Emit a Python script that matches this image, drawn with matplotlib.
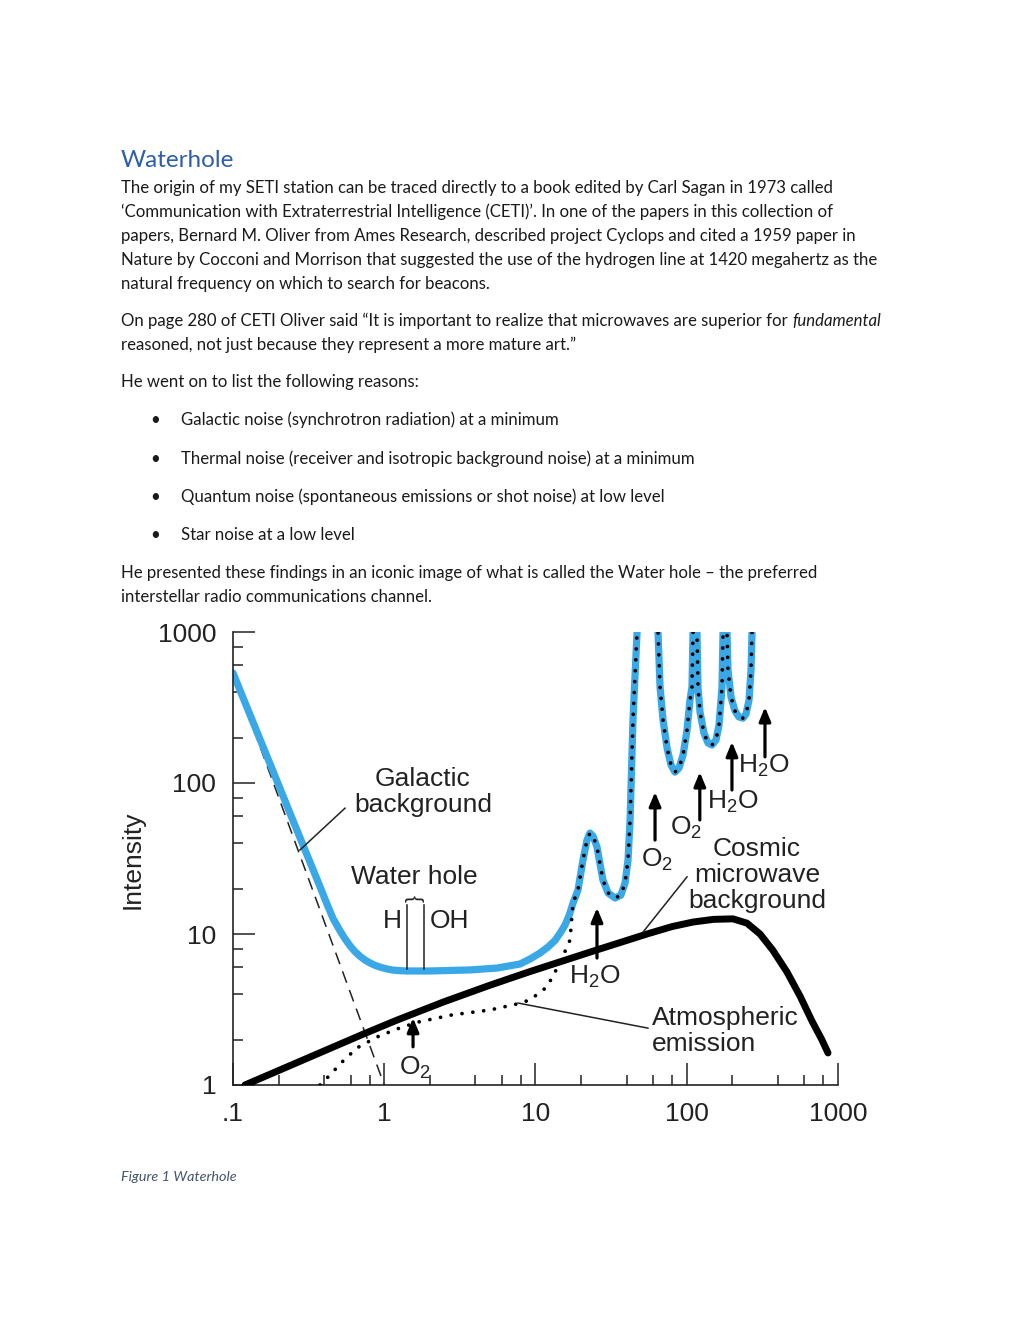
import numpy as np
import matplotlib.pyplot as plt
from matplotlib.ticker import FixedLocator, FixedFormatter, LogLocator, NullFormatter

plt.rcParams['mathtext.default'] = 'regular'

# page text
title = 'Waterhole'
para1 = ['The origin of my SETI station can be traced directly to a book edited by Carl Sagan in 1973 called',
         '\u2018Communication with Extraterrestrial Intelligence (CETI)\u2019. In one of the papers in this collection of',
         'papers, Bernard M. Oliver from Ames Research, described project Cyclops and cited a 1959 paper in',
         'Nature by Cocconi and Morrison that suggested the use of the hydrogen line at 1420 megahertz as the',
         'natural frequency on which to search for beacons.']
para2a = 'On page 280 of CETI Oliver said \u201cIt is important to realize that microwaves are superior for'
para2i = 'fundamental'
para2b = 'reasoned, not just because they represent a more mature art.\u201d'
para3 = 'He went on to list the following reasons:'
bullets = ['Galactic noise (synchrotron radiation) at a minimum',
           'Thermal noise (receiver and isotropic background noise) at a minimum',
           'Quantum noise (spontaneous emissions or shot noise) at low level',
           'Star noise at a low level']
para4 = ['He presented these findings in an iconic image of what is called the Water hole \u2013 the preferred',
         'interstellar radio communications channel.']
caption = 'Figure 1 Waterhole'

# chart data (frequency in GHz, intensity)
total_x = [0.1, 0.1295, 0.1757, 0.238, 0.299, 0.323, 0.376, 0.418, 0.458, 0.51, 0.55, 0.594, 0.64, 0.691,
           0.75, 0.805, 0.87, 0.937, 1.03, 1.125, 1.25, 1.41, 2.0, 3.69, 5.57, 7.9, 9.2, 10.7, 12.1,
           13.5, 14.7, 15.7, 16.7, 17.7,
           19.1, 20.6, 21.9, 22.9, 24.0, 25.5, 27.9, 30.2, 33.6, 36.7, 39.1, 40.9, 42.2, 44.1, 46.9, 52,
           64.6, 66.6, 69.7, 74.1, 78.7, 83.6, 88.9, 94.5, 100.4, 105, 108.3, 110, 113,
           116.9, 118.7, 122.4, 130, 138.2, 146.9, 156.1, 163.4, 168.4, 171, 173.7, 179,
           184.6, 187.4, 196.2, 208.4, 221.5, 235.5, 246.4, 258, 266, 270, 274]
total_y = [535, 283, 134, 63.2, 36.1, 29.9, 20.6, 15.8, 12.7, 10.5, 9.3, 8.35, 7.65, 7.12,
           6.7, 6.43, 6.2, 6.04, 5.88, 5.78, 5.72, 5.69, 5.69, 5.78, 5.95, 6.33, 6.83, 7.48, 8.2,
           9.1, 10.3, 11.5, 13.3, 16.0,
           19.6, 30.9, 41.9, 46.6, 44.5, 37.7, 22.8, 18.7, 17.3, 18.1, 21.8, 30.9, 56.9, 261, 985, 3000,
           985, 432, 261, 170.6, 131.6, 118, 125.7, 153.2, 224, 354, 432, 985, 3000,
           985, 432, 295, 214, 184, 178.5, 192.6, 242, 354, 432, 985, 3000,
           985, 560, 371, 300, 273.5, 269, 286.5, 354, 560, 985, 3000]

atm_x = [0.376, 0.438, 0.526, 0.660, 0.896, 1.214, 1.67, 2.80, 5.0, 7.55, 9.2, 11.9, 14.5, 16.9]
atm_y = [1.0, 1.165, 1.42, 1.76, 2.08, 2.35, 2.61, 2.91, 3.14, 3.44, 3.66, 4.46, 6.43, 9.1]
# above ~17 GHz the atmospheric emission is the total curve
atm_x = atm_x + [x for x in total_x if x >= 17.7]
atm_y = atm_y + [y for x, y in zip(total_x, total_y) if x >= 17.7]

cmb_x = [0.12, 0.724, 1.214, 2.45, 5.0, 9.2, 25.5, 54.6, 80, 110, 150, 202, 250, 305, 371, 460, 561, 673, 783, 859]
cmb_y = [1.0, 2.17, 2.69, 3.54, 4.58, 5.64, 7.85, 10.0, 11.2, 12.0, 12.5, 12.6, 11.8, 10.0, 7.8, 5.6, 3.88, 2.65, 1.99, 1.63]

sync_x = [0.1, 1.0]
sync_y = [535, 1.0]

# absorption lines (arrows)
line_x = [1.55, 25.5, 61.7, 122, 199, 329]
line_lo = [1.79, 6.93, 41.9, 56.9, 89.9, 149]
line_hi = [2.78, 14.9, 87.1, 118, 187, 318]
line_lab = ['O$_2$', 'H$_2$O', 'O$_2$', 'O$_2$', 'H$_2$O', 'H$_2$O']

# water hole lines (H, OH)
wh_x = [1.42, 1.83]

xticks = [0.1, 1, 10, 100, 1000]
xtick_lab = ['.1', '1', '10', '100', '1000']
yticks = [1, 10, 100, 1000]
ytick_lab = ['1', '10', '100', '1000']

W, H = 1020, 1320
fig = plt.figure(figsize=(W / 100, H / 100), dpi=100)


def fy(py):
    return 1 - py / H


fs = 12.1
body = dict(family='Lato', fontsize=fs, color='#1a1a1a', va='baseline')

fig.text(121 / W, fy(167), title, family='Lato', fontsize=17.5, color='#2F5FA8', va='baseline')
for i, s in enumerate(para1):
    fig.text(121 / W, fy(193 + 24 * i), s, **body)
t = fig.text(121 / W, fy(326), para2a + ' ', **body)
bb = t.get_window_extent(fig.canvas.get_renderer())
fig.text(bb.x1 / W, fy(326), para2i, style='italic', **body)
fig.text(121 / W, fy(350), para2b, **body)
fig.text(121 / W, fy(387), para3, **body)
for i, s in enumerate(bullets):
    yy = fy([425, 464, 502, 540][i])
    fig.text(150 / W, yy, '\u2022', **body)
    fig.text(181 / W, yy, s, **body)
for i, s in enumerate(para4):
    fig.text(121 / W, fy(578 + 24 * i), s, **body)
fig.text(121 / W, fy(1181), caption, family='Lato', style='italic', fontsize=10.4, color='#44546A', va='baseline')

# chart
cf = dict(family='Liberation Sans', fontsize=19, color='#222222')
ax = fig.add_axes([233 / W, 1 - 1085 / H, 605 / W, 453 / H])
ax.set_xscale('log')
ax.set_yscale('log')
ax.set_xlim(0.1, 1000)
ax.set_ylim(1, 1000)
for s in ['top', 'right']:
    ax.spines[s].set_visible(False)
for s in ['left', 'bottom']:
    ax.spines[s].set_linewidth(1.2)
    ax.spines[s].set_color('#222222')
ax.xaxis.set_major_locator(FixedLocator(xticks))
ax.xaxis.set_major_formatter(FixedFormatter(xtick_lab))
ax.yaxis.set_major_locator(FixedLocator(yticks))
ax.yaxis.set_major_formatter(FixedFormatter(ytick_lab))
ax.xaxis.set_minor_locator(LogLocator(base=10, subs=(2, 4, 6, 8)))
ax.yaxis.set_minor_locator(LogLocator(base=10, subs=(2, 4, 6, 8)))
ax.xaxis.set_minor_formatter(NullFormatter())
ax.yaxis.set_minor_formatter(NullFormatter())
ax.tick_params(which='both', direction='in', width=1.1, color='#222222')
ax.tick_params(which='major', length=16)
ax.tick_params(which='minor', length=7)
ax.tick_params(axis='both', pad=12, labelsize=19, labelcolor='#222222')
for lab in ax.get_xticklabels() + ax.get_yticklabels():
    lab.set_family('Liberation Sans')

fig.text(133 / W, fy(860), 'Intensity', rotation=90, ha='center', va='center', **cf)

ax.plot(sync_x, sync_y, color='#222222', lw=1.1, dashes=(8, 5), zorder=1)
ax.plot(total_x, total_y, color='#3aa8e6', lw=5.2, solid_capstyle='round', solid_joinstyle='round', zorder=2)
ax.plot(cmb_x, cmb_y, color='black', lw=5.0, solid_capstyle='round', solid_joinstyle='round', zorder=3)
ax.plot(atm_x, atm_y, color='black', lw=2.7, linestyle=(0, (0.01, 2.9)), dash_capstyle='round', zorder=4)

# leader lines
ax.plot([0.277, 0.55], [36.0, 68.1], color='#222222', lw=1.1, zorder=5)
ax.plot([51.4, 100.4], [10.3, 23.9], color='#222222', lw=1.1, zorder=5)
ax.plot([7.66, 55.4], [3.49, 2.38], color='#222222', lw=1.1, zorder=5)

# water hole markers
for x in wh_x:
    ax.plot([x, x], [5.9, 15.6], color='#222222', lw=1.1, zorder=5)

lab_pos = [(1.59, 1.30), (24.7, 5.19), (63.5, 30.9), (98.8, 50.3), (202, 75.0), (324, 129)]
for x, lo, hi, lab, (lx, ly) in zip(line_x, line_lo, line_hi, line_lab, lab_pos):
    ax.annotate('', xy=(x, hi), xytext=(x, lo),
                arrowprops=dict(arrowstyle='-|>,head_length=0.6,head_width=0.25', lw=2.3, color='black',
                                mutation_scale=14, shrinkA=0, shrinkB=0), zorder=6)
    ax.text(lx, ly, lab, ha='center', va='center', **cf)

ax.text(1.80, 87.1, 'Galactic\nbackground', ha='center', va='center', linespacing=1.1, **cf)
ax.text(1.59, 23.9, 'Water hole', ha='center', va='center', **cf)
ax.text(1.59, 17.3, '}', rotation=90, ha='center', va='center', family='Liberation Sans', fontsize=15, color='#222222')
ax.text(1.30, 12.2, 'H', ha='right', va='center', **cf)
ax.text(2.0, 12.2, 'OH', ha='left', va='center', **cf)
ax.text(291, 24.6, 'Cosmic\nmicrowave\nbackground', ha='center', va='center', linespacing=1.1, **cf)
ax.text(58.9, 2.28, 'Atmospheric\nemission', ha='left', va='center', linespacing=1.1, **cf)

fig.savefig('out.png', dpi=100)
